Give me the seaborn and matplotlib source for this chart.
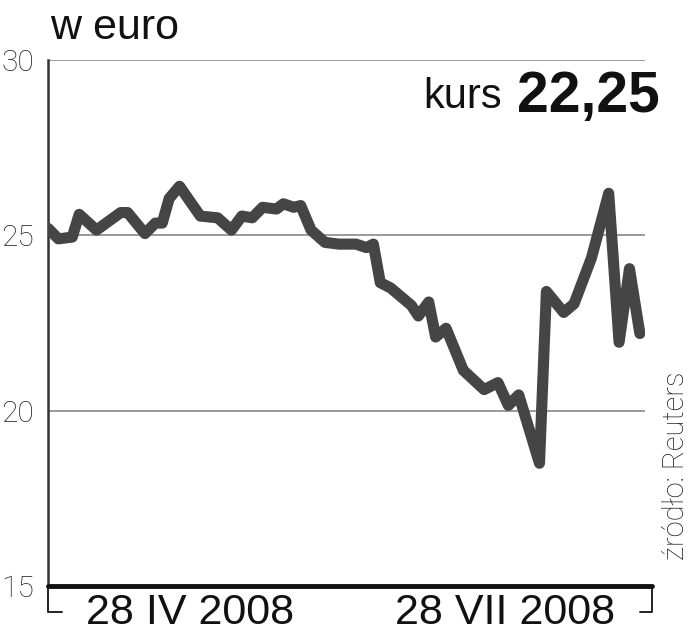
"""Share price in euro, spring-summer 2008."""
import numpy as np
import pandas as pd
import seaborn as sns
import matplotlib.pyplot as plt
from matplotlib import font_manager

# days since 18 III 2008 and closing price in euro
days = [0, 3, 7, 9, 14, 21, 23, 28, 31, 33, 35, 38, 44, 49, 53, 56, 59,
        62, 66, 68, 71, 73, 76, 80, 84, 89, 92, 94, 96, 99, 105, 107, 110,
        112, 115, 120, 126, 130, 133, 136, 142, 144, 149, 152, 157, 162,
        165, 168, 171]
price = [25.2, 24.9, 24.95, 25.6, 25.15, 25.65, 25.65, 25.05, 25.35, 25.35,
         26.05, 26.4, 25.55, 25.5, 25.15, 25.55, 25.5, 25.8, 25.75, 25.9,
         25.8, 25.85, 25.15, 24.8, 24.75, 24.75, 24.65, 24.75, 23.65, 23.5,
         23.0, 22.7, 23.1, 22.1, 22.35, 21.15, 20.6, 20.8, 20.15, 20.45,
         18.5, 23.4, 22.8, 23.05, 24.35, 26.2, 21.95, 24.05, 22.2]
start = pd.Timestamp('2008-03-18')
tick_dates = [pd.Timestamp('2008-04-28'), pd.Timestamp('2008-07-28')]
tick_labels = ['28 IV 2008', '28 VII 2008']
y_ticks = [15, 20, 25, 30]

df = pd.DataFrame({'date': start + pd.to_timedelta(days, unit='D'),
                   'price': price})

sns.set_style('white')
installed = {f.name for f in font_manager.fontManager.ttflist}
narrow = 'Liberation Sans Narrow' if 'Liberation Sans Narrow' in installed \
    else 'Liberation Sans'
plt.rcParams['font.family'] = ['Liberation Sans', 'DejaVu Sans']

fig = plt.figure(figsize=(6.93, 6.40), dpi=100)
ax = fig.add_axes([0.0693, 0.0844, 0.8615, 0.8218])

sns.lineplot(data=df, x='date', y='price', ax=ax, color='#454545',
             linewidth=8, solid_joinstyle='round', solid_capstyle='round',
             zorder=3)

ax.set_xlim(start, start + pd.Timedelta(days=172.5))
ax.set_ylim(15, 30)
ax.set_yticks(y_ticks)
ax.set_yticklabels([str(v) for v in y_ticks], fontsize=21.5,
                   family=['Roboto', 'DejaVu Sans'], fontweight='light',
                   color='#222222')
ax.set_xticks(tick_dates)
ax.set_xticklabels(tick_labels, fontsize=31, family=[narrow, 'DejaVu Sans'],
                   color='#111111')
ax.tick_params(axis='y', length=0, pad=10)
ax.tick_params(axis='x', length=0, pad=5)
ax.set_xlabel('')
ax.set_ylabel('')

ax.grid(axis='y', color='#9a9a9a', linewidth=1.4)
ax.grid(axis='x', visible=False)
for side in ['top', 'right']:
    ax.spines[side].set_visible(False)
ax.spines['left'].set_color('#333333')
ax.spines['left'].set_linewidth(1.8)
ax.spines['bottom'].set_visible(False)
ax.plot([0, 1.012], [0, 0], transform=ax.transAxes, color='#111111',
        linewidth=3.5, clip_on=False, zorder=4)

# brackets under the time axis
ax.plot([0, 0, 0.023], [0, -0.05, -0.05], transform=ax.transAxes,
        color='#222222', linewidth=1.4, clip_on=False)
ax.plot([0.992, 1.012, 1.012], [-0.05, -0.05, 0], transform=ax.transAxes,
        color='#222222', linewidth=1.4, clip_on=False)

fig.text(0.072, 0.957, 'w euro', fontsize=31, va='center', ha='left',
         color='#111111')
ax.text(0.76, 0.929, 'kurs', fontsize=30, transform=ax.transAxes,
        ha='right', va='center', color='#111111')
ax.text(1.024, 0.929, '22,25', fontsize=41, fontweight='bold',
        transform=ax.transAxes, ha='right', va='center', color='#111111')
fig.text(0.976, 0.125, 'źródło: Reuters', rotation=90, fontsize=21,
         family=['Roboto', 'DejaVu Sans'], fontweight='light',
         ha='center', va='bottom', color='#222222')

fig.savefig('out.png', dpi=100)
